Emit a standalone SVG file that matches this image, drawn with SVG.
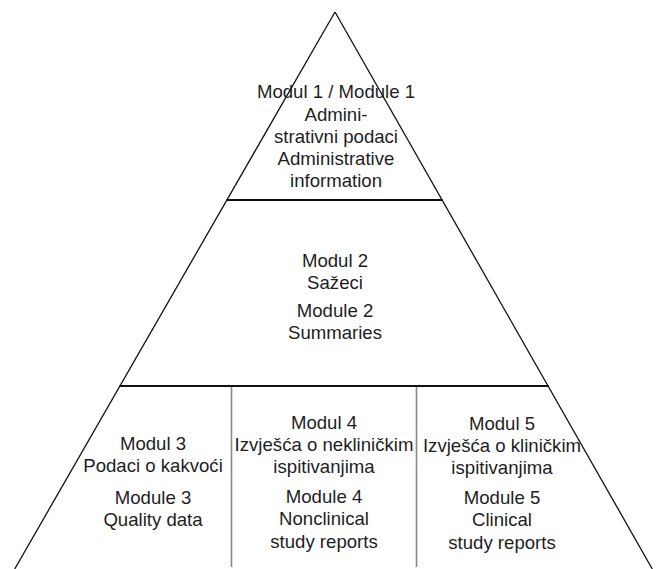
<svg xmlns="http://www.w3.org/2000/svg" width="657" height="569" viewBox="0 0 657 569">
<style>
.side{stroke:#111;stroke-width:1.3;fill:none}
.band{stroke:#111;stroke-width:2.2;fill:none}
.div{stroke:#888;stroke-width:1.6;fill:none}
text{font-family:"Liberation Sans",Arial,Helvetica,sans-serif;font-size:18.6px;fill:#1e1e1e;text-anchor:middle}
</style>
<rect width="657" height="569" fill="#fff"/>
<g id="pyramid">
<line class="side" x1="335" y1="12" x2="14.7" y2="569"/>
<line class="side" x1="335" y1="12" x2="652.3" y2="569"/>
<line class="band" x1="226.5" y1="200" x2="442.5" y2="200"/>
<line class="band" x1="119.5" y1="386" x2="549" y2="386"/>
<line class="div" x1="231.5" y1="387" x2="231.5" y2="567"/>
<line class="div" x1="416.5" y1="387" x2="416.5" y2="567"/>
</g>
<g id="module1">
<text x="336" y="98">Modul 1 / Module 1</text>
<text x="336" y="120.5">Admini-</text>
<text x="336" y="143">strativni podaci</text>
<text x="336" y="165">Administrative</text>
<text x="336" y="187">information</text>
</g>
<g id="module2">
<text x="335" y="266.5">Modul 2</text>
<text x="335" y="288.5">Sažeci</text>
<text x="335" y="316.5">Module 2</text>
<text x="335" y="338.5">Summaries</text>
</g>
<g id="module3">
<text x="153" y="449.5">Modul 3</text>
<text x="153" y="471.5">Podaci o kakvoći</text>
<text x="153" y="503.5">Module 3</text>
<text x="153" y="525.5">Quality data</text>
</g>
<g id="module4">
<text x="324" y="429">Modul 4</text>
<text x="324" y="451">Izvješća o nekliničkim</text>
<text x="324" y="473">ispitivanjima</text>
<text x="324" y="503">Module 4</text>
<text x="324" y="525">Nonclinical</text>
<text x="324" y="548">study reports</text>
</g>
<g id="module5">
<text x="502" y="429.5">Modul 5</text>
<text x="502" y="451.5">Izvješća o kliničkim</text>
<text x="502" y="473.5">ispitivanjima</text>
<text x="502" y="504">Module 5</text>
<text x="502" y="526">Clinical</text>
<text x="502" y="549">study reports</text>
</g>
<g id="connectors"/>
</svg>
